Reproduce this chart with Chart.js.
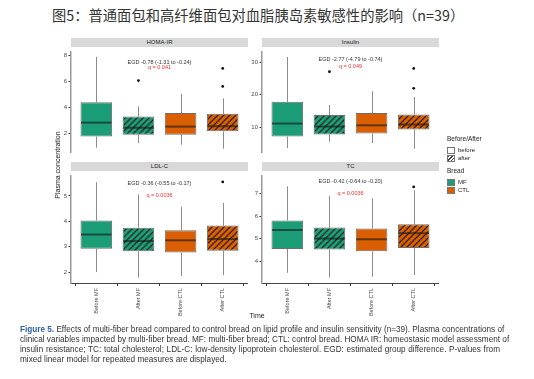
<!DOCTYPE html>
<html>
<head>
<meta charset="utf-8">
<script src="https://cdn.jsdelivr.net/npm/chart.js@4"></script>
<style>
body{margin:0;background:#fff;width:534px;height:379px;position:relative;overflow:hidden;font-family:"Liberation Sans",Arial,sans-serif;color:#222}
canvas{position:absolute}
.t{position:absolute;white-space:nowrap}
.strip{position:absolute;height:9px;background:#d9d9d9;font-size:6px;line-height:9px;text-align:center;color:#1a1a1a}
.key{position:absolute;width:6px;height:5px;border:1px solid #777}
.cap{position:absolute;left:20px;width:480px;font-family:"Liberation Sans Narrow",sans-serif;font-size:8.2px;line-height:10px;white-space:nowrap;text-align:justify;text-align-last:justify;color:#333}
</style>
</head>
<body>
<div class="t" style="left:52px;top:5px;font-family:'Noto Sans CJK SC';font-size:14.3px;line-height:20px;color:#333">图5：普通面包和高纤维面包对血脂胰岛素敏感性的影响（n=39）</div>

<div class="strip" style="left:71px;top:38px;width:177px">HOMA-IR</div>
<div class="strip" style="left:262px;top:38px;width:177px">Insulin</div>
<div class="strip" style="left:71px;top:162px;width:177px">LDL-C</div>
<div class="strip" style="left:262px;top:162px;width:177px">TC</div>

<canvas id="c1" width="208" height="111" style="left:40px;top:47px"></canvas>
<canvas id="c2" width="208" height="111" style="left:231px;top:47px"></canvas>
<canvas id="c3" width="208" height="146" style="left:40px;top:171px"></canvas>
<canvas id="c4" width="208" height="146" style="left:231px;top:171px"></canvas>

<div class="t" style="left:23px;top:161px;width:70px;text-align:center;font-size:7px;line-height:8px;transform:rotate(-90deg);transform-origin:35px 4px">Plasma concentration</div>
<div class="t" style="left:240px;top:311px;width:34px;text-align:center;font-size:7px;line-height:9px">Time</div>

<!-- legend -->
<div class="t" style="left:447px;top:135px;font-size:6.5px;line-height:8px">Before/After</div>
<div class="key" style="left:447px;top:147px;background:#fff"></div>
<div class="t" style="left:458px;top:146px;font-size:6px;line-height:8px">before</div>
<div class="key" style="left:447px;top:155px;background:repeating-linear-gradient(-45deg,#fff 0 1.5px,#444 1.5px 2.5px)"></div>
<div class="t" style="left:458px;top:154px;font-size:6px;line-height:8px">after</div>
<div class="t" style="left:447px;top:167px;font-size:6.5px;line-height:8px">Bread</div>
<div class="key" style="left:447px;top:179px;background:#1b9e77"></div>
<div class="t" style="left:458px;top:178px;font-size:6px;line-height:8px">MF</div>
<div class="key" style="left:447px;top:187px;background:#d95f02"></div>
<div class="t" style="left:458px;top:186px;font-size:6px;line-height:8px">CTL</div>

<div class="cap" style="top:325px"><b style="color:#2e5fa8">Figure 5.</b> Effects of multi-fiber bread compared to control bread on lipid profile and insulin sensitivity (n=39). Plasma concentrations of</div>
<div class="cap" style="top:335px">clinical variables impacted by multi-fiber bread. MF: multi-fiber bread; CTL: control bread. HOMA IR: homeostasic model assessment of</div>
<div class="cap" style="top:345px">insulin resistance; TC: total cholesterol; LDL-C: low-density lipoprotein cholesterol. EGD: estimated group difference. P-values from</div>
<div class="cap" style="top:355px;text-align-last:left">mixed linear model for repeated measures are displayed.</div>

<script>
const categories = ['Before MF', 'After MF', 'Before CTL', 'After CTL'];

// HOMA-IR
const homaLow  = [0.87, 1.22, 1.10, 0.80];
const homaQ1   = [1.74, 1.88, 1.88, 2.14];
const homaMed  = [2.82, 2.42, 2.51, 2.54];
const homaQ3   = [4.39, 3.29, 3.57, 3.50];
const homaHigh = [7.92, 4.08, 5.05, 4.70];
const homaOut  = [[], [6.08], [], [7.02, 5.63]];
const homaTicks = [2, 4, 6, 8];

// Insulin
const insLow  = [3.7, 5.6, 5.2, 3.5];
const insQ1   = [7.2, 7.87, 8.15, 9.35];
const insMed  = [11.2, 10.28, 10.65, 10.9];
const insQ3   = [17.86, 13.8, 14.4, 14.0];
const insHigh = [31.6, 16.9, 21.1, 19.4];
const insOut  = [[], [27.1], [], [28.1, 22.0]];
const insTicks = [10, 20, 30];

// LDL-C
const ldlLow  = [2.0, 1.78, 1.85, 1.88];
const ldlQ1   = [2.92, 2.82, 2.77, 2.84];
const ldlMed  = [3.48, 3.22, 3.25, 3.30];
const ldlQ3   = [4.03, 3.75, 3.65, 3.83];
const ldlHigh = [5.54, 5.06, 4.57, 4.72];
const ldlOut  = [[], [], [], [5.55]];
const ldlTicks = [2, 3, 4, 5];

// TC
const tcLow  = [3.5, 3.29, 3.33, 3.4];
const tcQ1   = [4.55, 4.53, 4.45, 4.59];
const tcMed  = [5.39, 5.01, 4.98, 5.25];
const tcQ3   = [5.81, 5.50, 5.46, 5.64];
const tcHigh = [7.32, 6.90, 6.79, 7.14];
const tcOut  = [[], [], [], [7.29]];
const tcTicks = [4, 5, 6, 7];

const egdText = ['EGD -0.78 (-1.31 to -0.24)', 'EGD -2.77 (-4.79 to -0.74)', 'EGD -0.36 (-0.55 to -0.17)', 'EGD -0.42 (-0.64 to -0.20)'];
const qText = ['q = 0.041', 'q = 0.049', 'q = 0.0036', 'q = 0.0036'];

const green = '#1b9e77';
const orange = '#d95f02';

function hatch(color) {
	const c = document.createElement('canvas');
	c.width = 6; c.height = 6;
	const g = c.getContext('2d');
	g.fillStyle = color;
	g.fillRect(0, 0, 6, 6);
	g.strokeStyle = '#1a1a1a';
	g.lineWidth = 1.2;
	g.beginPath();
	g.moveTo(-1, 7); g.lineTo(7, -1);
	g.moveTo(-1, 1); g.lineTo(1, -1);
	g.moveTo(5, 7); g.lineTo(7, 5);
	g.stroke();
	return g.createPattern(c, 'repeat');
}

function boxPlugin(p) {
	return {
		id: 'box_' + p.id,
		beforeDatasetsDraw(chart) {
			const ctx = chart.ctx, xs = chart.scales.x, ys = chart.scales.y;
			ctx.save();
			ctx.strokeStyle = '#8c8c8c';
			ctx.lineWidth = 1;
			categories.forEach((c, i) => {
				const x = Math.round(xs.getPixelForValue(i + 1)) + 0.5;
				ctx.beginPath();
				ctx.moveTo(x, ys.getPixelForValue(p.high[i]));
				ctx.lineTo(x, ys.getPixelForValue(p.q3[i]));
				ctx.moveTo(x, ys.getPixelForValue(p.q1[i]));
				ctx.lineTo(x, ys.getPixelForValue(p.low[i]));
				ctx.stroke();
			});
			ctx.restore();
		},
		afterDatasetsDraw(chart) {
			const ctx = chart.ctx, xs = chart.scales.x, ys = chart.scales.y;
			const bars = chart.getDatasetMeta(0).data;
			ctx.save();
			categories.forEach((c, i) => {
				const bar = bars[i];
				const half = bar.width / 2 - 0.5;
				const y = ys.getPixelForValue(p.med[i]);
				ctx.strokeStyle = 'rgba(25,25,25,0.62)';
				ctx.lineWidth = 2;
				ctx.beginPath();
				ctx.moveTo(bar.x - half, y);
				ctx.lineTo(bar.x + half, y);
				ctx.stroke();
				ctx.fillStyle = '#111';
				p.out[i].forEach(v => {
					ctx.beginPath();
					ctx.arc(xs.getPixelForValue(i + 1), ys.getPixelForValue(v), 1.4, 0, Math.PI * 2);
					ctx.fill();
				});
			});
			ctx.font = '5.5px "Liberation Sans"';
			ctx.textAlign = 'center';
			ctx.textBaseline = 'middle';
			ctx.fillStyle = '#333';
			ctx.fillText(egdText[p.id], xs.getPixelForValue(2.5), ys.getPixelForValue(p.egdY));
			ctx.fillStyle = '#e8342f';
			ctx.fillText(qText[p.id], xs.getPixelForValue(2.5), ys.getPixelForValue(p.qY));
			ctx.restore();
		}
	};
}

function makePanel(canvasId, p) {
	const bars = categories.map((c, i) => ({x: i + 1, y: [p.q1[i], p.q3[i]]}));
	new Chart(document.getElementById(canvasId), {
		type: 'bar',
		data: {
			datasets: [{
				data: bars,
				backgroundColor: [green, hatch(green), orange, hatch(orange)],
				borderColor: '#6e6e6e',
				borderWidth: 1,
				borderSkipped: false,
				barPercentage: 0.75,
				categoryPercentage: 1
			}]
		},
		options: {
			responsive: false,
			animation: false,
			events: [],
			layout: {padding: 0},
			plugins: {legend: {display: false}, tooltip: {enabled: false}},
			scales: {
				x: {
					type: 'linear',
					min: 0.4,
					max: 4.6,
					offset: false,
					display: p.bottom,
					afterBuildTicks: s => { s.ticks = categories.map((c, i) => ({value: i + 1})); },
					afterFit: s => { s.height = p.bottom ? 34 : 0; },
					ticks: {
						callback: v => categories[v - 1],
						minRotation: 90,
						maxRotation: 90,
						autoSkip: false,
						font: {size: 5.5},
						color: '#4d4d4d',
						padding: 2
					},
					grid: {drawOnChartArea: false, tickLength: 3, tickColor: '#333'},
					border: {display: true, color: '#444', width: 1}
				},
				y: {
					min: p.min,
					max: p.max,
					afterBuildTicks: s => { s.ticks = p.ticks.map(v => ({value: v})); },
					afterFit: s => { s.width = 31; },
					ticks: {font: {size: 6}, color: '#4d4d4d', padding: 1.5},
					grid: {drawOnChartArea: false, tickLength: 2.5, tickColor: '#333'},
					border: {display: true, color: '#999', width: 1.5}
				}
			}
		},
		plugins: [boxPlugin(p)]
	});
}

makePanel('c1', {id: 0, low: homaLow, q1: homaQ1, med: homaMed, q3: homaQ3, high: homaHigh, out: homaOut, ticks: homaTicks, min: 0.47, max: 8.29, egdY: 7.49, qY: 7.07, bottom: false});
makePanel('c2', {id: 1, low: insLow, q1: insQ1, med: insMed, q3: insQ3, high: insHigh, out: insOut, ticks: insTicks, min: 2.2, max: 33.1, egdY: 30.8, qY: 28.8, bottom: false});
makePanel('c3', {id: 2, low: ldlLow, q1: ldlQ1, med: ldlMed, q3: ldlQ3, high: ldlHigh, out: ldlOut, ticks: ldlTicks, min: 1.57, max: 5.78, egdY: 5.5, qY: 5.0, bottom: true});
makePanel('c4', {id: 3, low: tcLow, q1: tcQ1, med: tcMed, q3: tcQ3, high: tcHigh, out: tcOut, ticks: tcTicks, min: 3.05, max: 7.77, egdY: 7.53, qY: 7.0, bottom: true});
</script>
</body>
</html>
